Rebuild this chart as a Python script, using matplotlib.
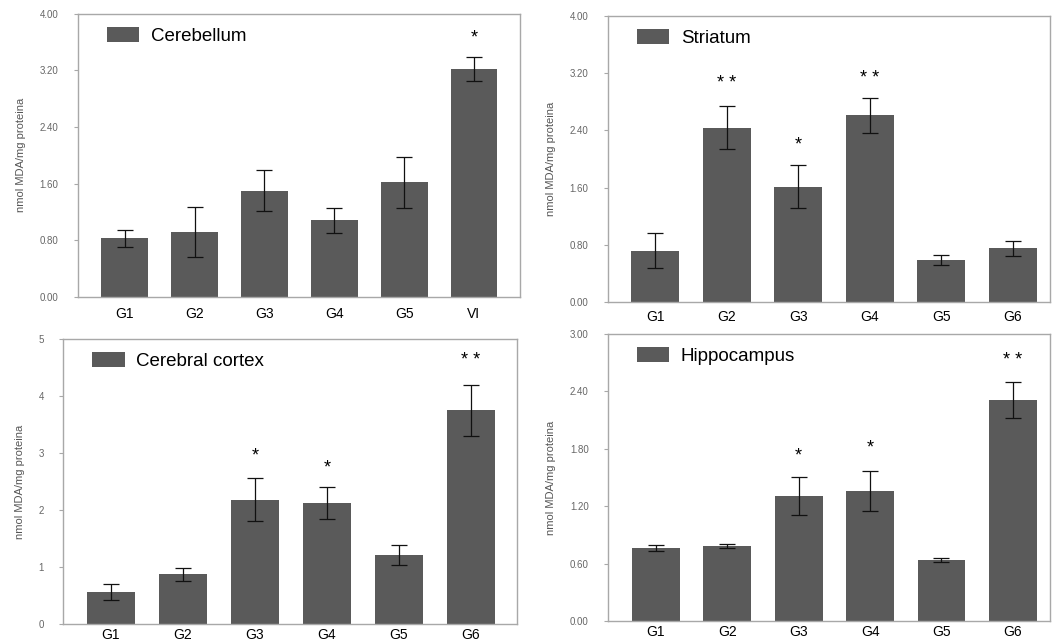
import numpy as np
import matplotlib
matplotlib.use("Agg")
import matplotlib.pyplot as plt

plt.rcParams['font.family'] = ['Liberation Sans', 'DejaVu Sans']

# valores (nmol MDA/mg proteina)
cereb_lab = ["G1", "G2", "G3", "G4", "G5", "VI"]
cereb_val = [0.83, 0.92, 1.50, 1.08, 1.62, 3.22]
cereb_err = [0.12, 0.35, 0.29, 0.18, 0.36, 0.17]
cereb_star = ["", "", "", "", "", "*"]
cereb_star_y = [0, 0, 0, 0, 0, 3.66]

stri_lab = ["G1", "G2", "G3", "G4", "G5", "G6"]
stri_val = [0.72, 2.44, 1.61, 2.61, 0.59, 0.75]
stri_err = [0.24, 0.30, 0.30, 0.25, 0.07, 0.10]
stri_star = ["", "* *", "*", "* *", "", ""]
stri_star_y = [0, 3.05, 2.20, 3.12, 0, 0]

cort_lab = ["G1", "G2", "G3", "G4", "G5", "G6"]
cort_val = [0.56, 0.87, 2.18, 2.12, 1.21, 3.75]
cort_err = [0.14, 0.12, 0.38, 0.28, 0.17, 0.45]
cort_star = ["", "", "*", "*", "", "* *"]
cort_star_y = [0, 0, 2.95, 2.74, 0, 4.62]

hipo_lab = ["G1", "G2", "G3", "G4", "G5", "G6"]
hipo_val = [0.76, 0.78, 1.31, 1.36, 0.636, 2.31]
hipo_err = [0.03, 0.02, 0.20, 0.21, 0.02, 0.19]
hipo_star = ["", "", "*", "*", "", "* *"]
hipo_star_y = [0, 0, 1.73, 1.81, 0, 2.72]

bar_col = "#5a5a5a"
spine_col = "#a8a8a8"

fig = plt.figure(figsize=(10.54, 6.44), dpi=100)


def panel(rect, labels, vals, errs, stars, star_y, name, yticks, yfmt, xlim, xpad):
    ax = fig.add_axes(rect)
    x = np.arange(len(vals))
    b = ax.bar(x, vals, width=0.67, color=bar_col, label=name, zorder=2)
    ax.errorbar(x, vals, yerr=errs, fmt="none", ecolor="#111111",
                elinewidth=0.9, capsize=5.5, capthick=0.9, zorder=3)
    for xi, s, sy in zip(x, stars, star_y):
        if s:
            ax.text(xi, sy, s, ha="center", va="center", fontsize=13)
    ax.set_xlim(*xlim)
    ax.set_ylim(yticks[0], yticks[-1])
    ax.set_yticks(yticks)
    ax.set_yticklabels([yfmt.format(t) for t in yticks], color="#666666", fontsize=7)
    ax.set_xticks(x)
    ax.set_xticklabels(labels, fontsize=10)
    ax.tick_params(axis="x", length=0, pad=xpad)
    ax.tick_params(axis="y", length=3, width=0.8, color=spine_col, pad=11)
    for sp in ax.spines.values():
        sp.set_color(spine_col)
        sp.set_linewidth(1.0)
    ax.set_ylabel("nmol MDA/mg proteina", fontsize=8, color="#555555", labelpad=10)
    ax.legend(handles=[b], loc="upper left", frameon=False, fontsize=13.5,
              handlelength=1.75, handleheight=0.85, handletextpad=0.6,
              borderaxespad=0.3, bbox_to_anchor=(0.035, 1.0))
    return ax


panel([0.074, 0.539, 0.4194, 0.4395], cereb_lab, cereb_val, cereb_err,
      cereb_star, cereb_star_y, "Cerebellum",
      [0, 0.8, 1.6, 2.4, 3.2, 4.0], "{:.2f}", (-0.67, 5.66), 7)
panel([0.5769, 0.531, 0.4193, 0.4441], stri_lab, stri_val, stri_err,
      stri_star, stri_star_y, "Striatum",
      [0, 0.8, 1.6, 2.4, 3.2, 4.0], "{:.2f}", (-0.66, 5.52), 6)
panel([0.0601, 0.0311, 0.4301, 0.442], cort_lab, cort_val, cort_err,
      cort_star, cort_star_y, "Cerebral cortex",
      [0, 1, 2, 3, 4, 5], "{:.0f}", (-0.66, 5.635), 3)
panel([0.5769, 0.0357, 0.4193, 0.4457], hipo_lab, hipo_val, hipo_err,
      hipo_star, hipo_star_y, "Hippocampus",
      [0, 0.6, 1.2, 1.8, 2.4, 3.0], "{:.2f}", (-0.67, 5.52), 3)

fig.savefig("out.png", dpi=100)
